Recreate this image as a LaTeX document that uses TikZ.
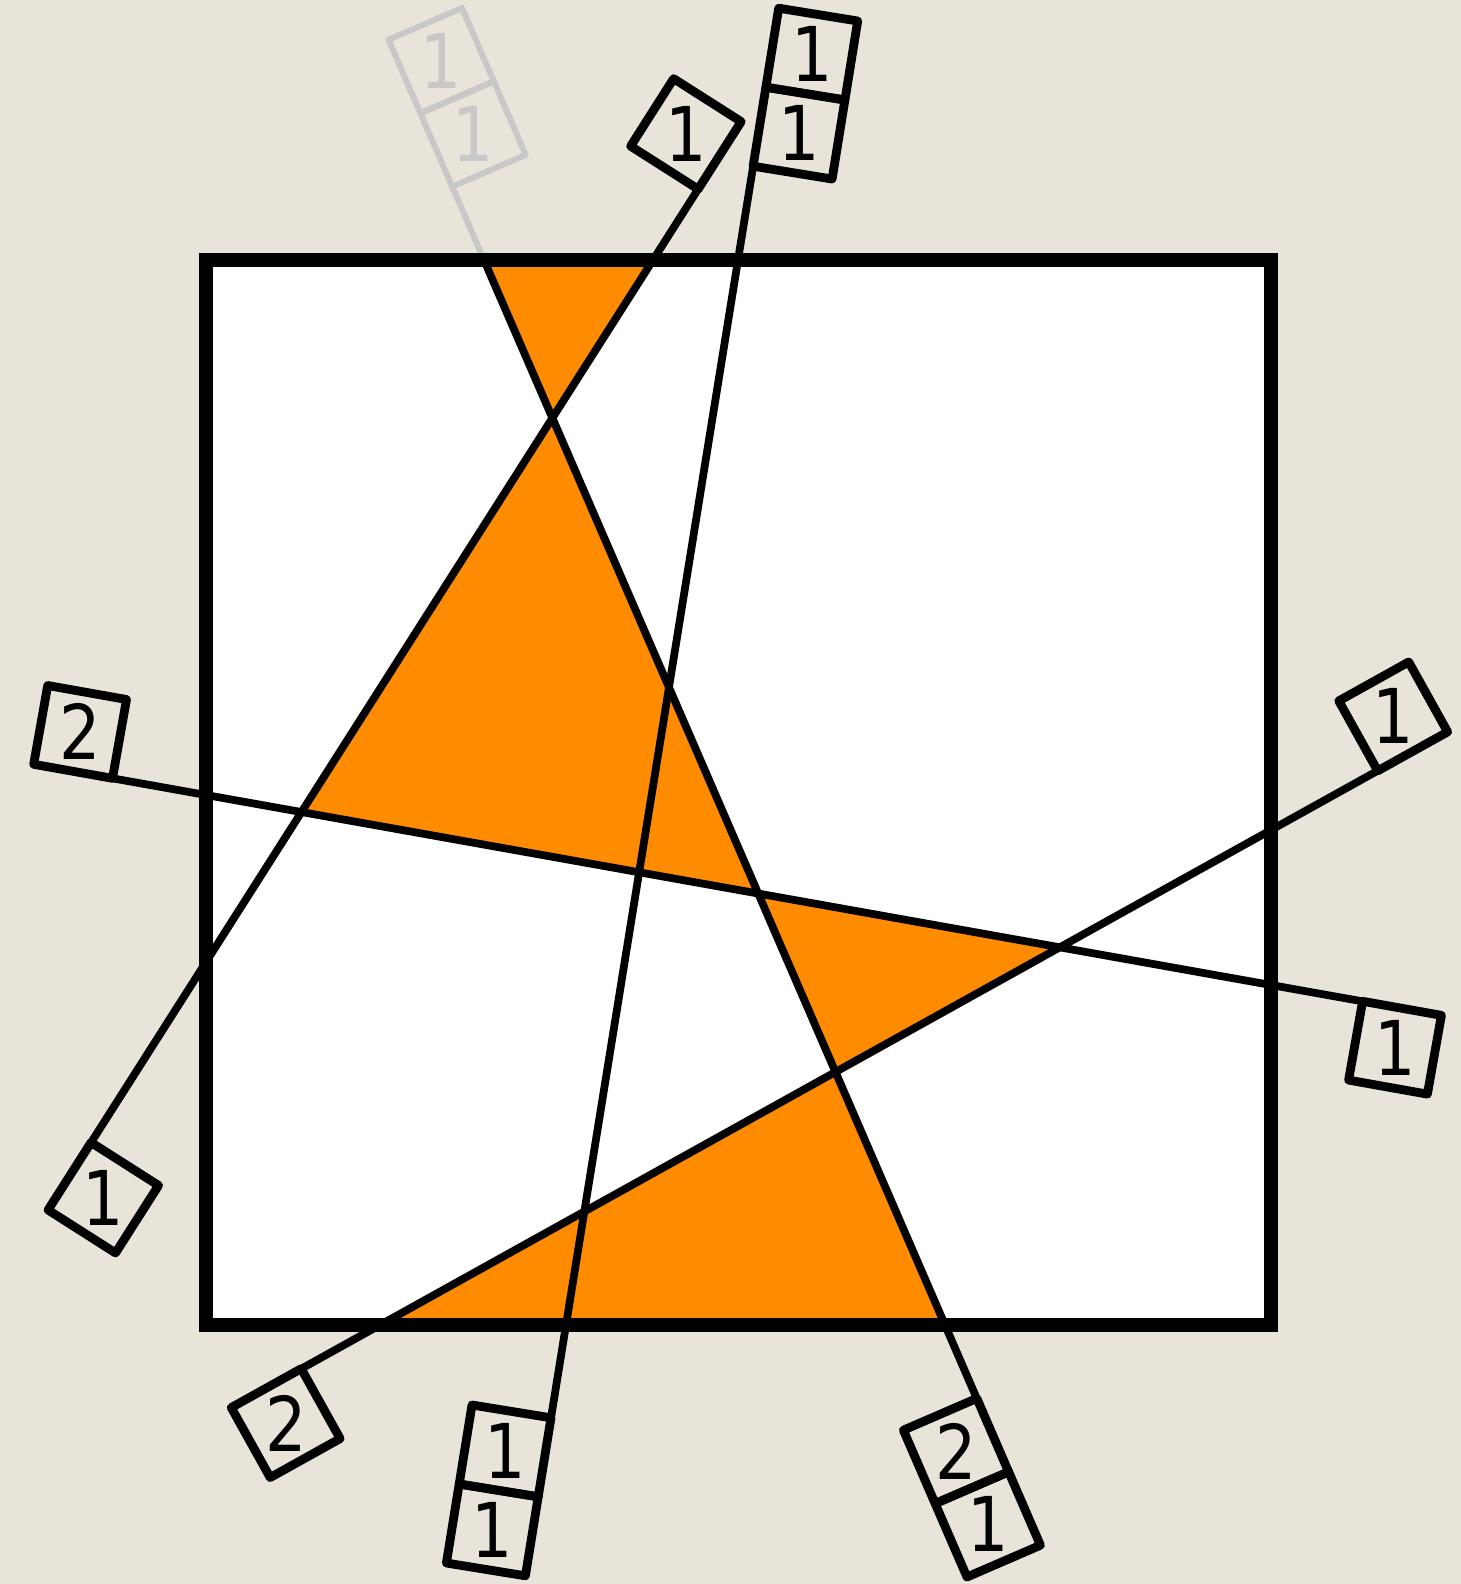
\documentclass[tikz,border=0pt]{standalone}
\usepackage{fontspec}
\newfontfamily\tagfont{DejaVu Sans}[FakeStretch=0.86]
\usetikzlibrary{calc}
\definecolor{paper}{HTML}{E8E4DA}
\definecolor{cutorange}{HTML}{FF8C00}
\definecolor{ghost}{HTML}{C8C8C8}

\begin{document}
\begin{tikzpicture}[x=0.01cm,y=-0.01cm,
 cell/.style={draw,line width=2.5pt,line join=round,minimum size=0.8cm,inner sep=0pt},
 digit/.style={inner sep=0pt,font=\tagfont\fontsize{21.5}{22}\selectfont},
 cut/.style={line width=2.2pt}]
\useasboundingbox (0,0) rectangle (1461,1584);
\fill[paper] (0,0) rectangle (1461,1584);
\fill[white] (206,260) rectangle (1271,1325);

% where the cuts meet the frame
\coordinate (At) at (484,260); \coordinate (Ab) at (945,1325);
\coordinate (Bt) at (653,260); \coordinate (Bl) at (206,962);
\coordinate (Ct) at (738,260); \coordinate (Cb) at (566,1325);
\coordinate (Dl) at (206,795); \coordinate (Dr) at (1271,985);
\coordinate (Eb) at (380,1325); \coordinate (Er) at (1271,830);

% free ends outside the frame
\coordinate (A1) at ($(At)!-0.8cm!(Ab)$); \coordinate (A2) at ($(Ab)!-0.8cm!(At)$);
\coordinate (B1) at ($(Bt)!-0.84cm!(Bl)$); \coordinate (B2) at ($(Bl)!-2.14cm!(Bt)$);
\coordinate (C1) at ($(Ct)!-0.95cm!(Cb)$); \coordinate (C2) at ($(Cb)!-0.94cm!(Ct)$);
\coordinate (D1) at ($(Dl)!-0.95cm!(Dr)$); \coordinate (D2) at ($(Dr)!-0.93cm!(Dl)$);
\coordinate (E1) at ($(Eb)!-0.9cm!(Er)$); \coordinate (E2) at ($(Er)!-1.22cm!(Eb)$);

\coordinate (AB) at (intersection of At--Ab and Bt--Bl);
\coordinate (BD) at (intersection of Bt--Bl and Dl--Dr);
\coordinate (AD) at (intersection of At--Ab and Dl--Dr);
\coordinate (DE) at (intersection of Dl--Dr and Eb--Er);
\coordinate (AE) at (intersection of At--Ab and Eb--Er);

\fill[cutorange] (At) -- (Bt) -- (AB) -- cycle;
\fill[cutorange] (AB) -- (BD) -- (AD) -- cycle;
\fill[cutorange] (AD) -- (DE) -- (AE) -- cycle;
\fill[cutorange] (AE) -- (Eb) -- (Ab) -- cycle;

\draw[cut,ghost,line width=1.7pt] (A1) -- (At);
\draw[cut] (At) -- (A2);
\draw[cut] (B1) -- (B2);
\draw[cut] (C1) -- (C2);
\draw[cut] (D1) -- (D2);
\draw[cut] (E1) -- (E2);
\draw[line width=4pt] (206,260) rectangle (1271,1325);

% tags
\node[cell,draw=ghost,line width=1.7pt,rotate=-66.6] (a1) at (473.0,134.0) {};
\node[digit,text=ghost] (a1d) at (a1.center) {1};
\node[cell,draw=ghost,line width=1.7pt,rotate=-66.6] (a2) at (441.2,60.6) {};
\node[digit,text=ghost] (a2d) at (a2.center) {1};
\node[cell,rotate=-66.6] (a3) at (956.0,1451.0) {};
\node[digit] (a3d) at (a3.center) {2};
\node[cell,rotate=-66.6] (a4) at (987.8,1524.4) {};
\node[digit] (a4d) at (a4.center) {1};

\node[cell,rotate=57.5] (b1) at (685.9,133.9) {};
\node[digit] (b1d) at (b1.center) {1};
\node[cell,rotate=57.5] (b2) at (103.3,1197.7) {};
\node[digit] (b2d) at (b2.center) {1};

\node[cell,rotate=80.8] (c1) at (799.0,133.1) {};
\node[digit] (c1d) at (c1.center) {1};
\node[cell,rotate=80.8] (c2) at (811.8,54.1) {};
\node[digit] (c2d) at (c2.center) {1};
\node[cell,rotate=80.8] (c3) at (505.1,1450.9) {};
\node[digit] (c3d) at (c3.center) {1};
\node[cell,rotate=80.8] (c4) at (492.3,1529.9) {};
\node[digit] (c4d) at (c4.center) {1};

\node[cell,rotate=-10.1] (d1) at (80.1,731.9) {};
\node[digit] (d1d) at (d1.center) {2};
\node[cell,rotate=-10.1] (d2) at (1395.0,1047.7) {};
\node[digit] (d2d) at (d2.center) {1};

\node[cell,rotate=29.1] (e1) at (1393.2,716.4) {};
\node[digit] (e1d) at (e1.center) {1};
\node[cell,rotate=29.1] (e2) at (285.7,1423.1) {};
\node[digit] (e2d) at (e2.center) {2};
\end{tikzpicture}
\end{document}
